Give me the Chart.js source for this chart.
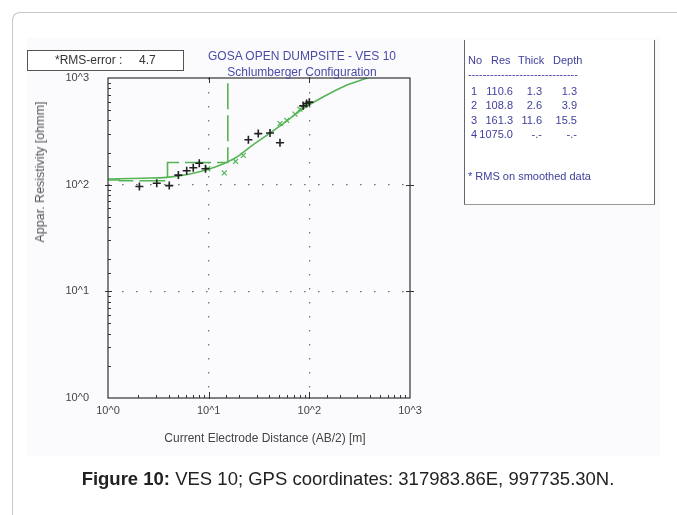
<!DOCTYPE html>
<html>
<head>
<meta charset="utf-8">
<script src="https://cdn.jsdelivr.net/npm/chart.js@4.4.1/dist/chart.umd.min.js"></script>
<style>
  html,body{margin:0;padding:0;background:#fff;}
  body{width:677px;height:515px;position:relative;overflow:hidden;font-family:"Liberation Sans",Arial,sans-serif;}
  #frame{position:absolute;left:12px;top:12px;width:720px;height:560px;border-top:1px solid #c6c6c6;border-left:1px solid #c6c6c6;border-top-left-radius:8px;}
  #tint{position:absolute;left:27px;top:38px;width:633px;height:418px;background:#fbfbfd;}
  #wrap{position:absolute;left:0;top:0;width:677px;height:515px;}
  .abs{position:absolute;white-space:nowrap;}
  #rms{left:27px;top:50px;width:155px;height:19px;border:1px solid #555;background:#fff;font-size:12px;color:#333;line-height:19px;}
  .ttl{color:#4b4ba6;font-size:12px;text-align:center;width:260px;left:172px;}
  #table{left:464px;top:40px;width:189px;height:164px;border-left:1px solid #666;border-right:1px solid #666;border-bottom:1px solid #999;color:#40409c;font-size:11px;background:#fff;}
  .cell{position:absolute;white-space:nowrap;line-height:13px;}
  .r{text-align:right;}
  #ytitle{left:40px;top:172px;transform:translate(-50%,-50%) rotate(-90deg);font-size:12.5px;color:#555;}
  #xtitle{left:265px;top:438px;transform:translate(-50%,-50%);font-size:12px;color:#444;}
  #caption{left:48px;width:600px;top:468px;text-align:center;font-size:18.5px;color:#222;line-height:22px;}
</style>
</head>
<body>
<div id="frame"></div>
<div id="tint"></div>
<div id="wrap"><canvas id="c" width="677" height="515"></canvas></div>
<div id="rms" class="abs"><span class="abs" style="left:27px;top:0">*RMS-error :</span><span class="abs" style="left:111px;top:0">4.7</span></div>
<div class="abs ttl" style="top:49px;">GOSA OPEN DUMPSITE - VES 10</div>
<div class="abs ttl" style="top:65px;">Schlumberger Configuration</div>
<div id="table" class="abs"></div>
<div id="ytitle" class="abs">Appar. Resistivity [ohmm]</div>
<div id="xtitle" class="abs">Current Electrode Distance (AB/2) [m]</div>
<div id="caption" class="abs"><b>Figure 10:</b> VES 10; GPS coordinates: 317983.86E, 997735.30N.</div>
<script>
// ---- data ----
const measX = [2.05, 3.05, 4.06, 5.0, 6.05, 7.03, 8.07, 9.3, 24.8, 31.1, 40.7, 51.1, 87, 94, 100];
const measY = [96, 103, 98, 123, 135, 144, 159, 141, 264, 301, 305, 247, 548, 577, 594];
const smoothX = [9.8, 14.3, 18.5, 22.1, 51.2, 59.6, 72, 80.7, 90.6];
const smoothY = [141, 129, 165, 188, 374, 401, 458, 510, 569];
const curveX = [1, 2.24, 3.83, 6.53, 10.3, 14.0, 19.0, 25.7, 37.7, 55.1, 87.1, 138, 217, 344, 420];
const curveY = [113, 115, 117, 126, 141, 157, 181, 225, 290, 374, 518, 667, 829, 972, 1040];
const layerNo = [1, 2, 3, 4];
const layerRes = [110.6, 108.8, 161.3, 1075.0];
const layerThick = [1.3, 2.6, 11.6, null];
const layerDepth = [1.3, 3.9, 15.5, null];
const decadeValues = [1, 10, 100, 1000];
const decadeLabels = ['10^0', '10^1', '10^2', '10^3'];

// ---- table ----
const tbl = document.getElementById('table');
function cell(txt, left, top, right) {
  const d = document.createElement('div');
  d.className = 'cell' + (right ? ' r' : '');
  d.textContent = txt;
  d.style.top = top + 'px';
  if (right) { d.style.left = (left - 60) + 'px'; d.style.width = '60px'; }
  else d.style.left = left + 'px';
  tbl.appendChild(d);
}
const ox = 464, oy = 40;
cell('No', 467 - ox, 54 - oy);
cell('Res', 490 - ox, 54 - oy);
cell('Thick', 517 - ox, 54 - oy);
cell('Depth', 552 - ox, 54 - oy);
cell('------------------------------', 467 - ox, 68 - oy);
const fmt = v => v == null ? '-.-' : v.toFixed(1);
layerNo.forEach((n, i) => {
  const top = 85 + i * 14.3 - oy;
  cell(String(n), 470 - ox, top);
  cell(fmt(layerRes[i]), 512 - ox, top, true);
  cell(fmt(layerThick[i]), 541 - ox, top, true);
  cell(fmt(layerDepth[i]), 576 - ox, top, true);
});
cell('* RMS on smoothed data', 467 - ox, 170 - oy);

// ---- step model from layers ----
const stepPts = [{x: 1, y: layerRes[0]}];
layerDepth.forEach((d, i) => { if (d != null) stepPts.push({x: d, y: layerRes[i + 1]}); });
stepPts.push({x: 1000, y: layerRes[layerRes.length - 1]});

const zip = (xs, ys) => xs.map((x, i) => ({x, y: ys[i]}));
const labelFor = v => { const i = decadeValues.findIndex(d => Math.abs(d - v) < 1e-9); return i >= 0 ? decadeLabels[i] : ''; };
const innerMajor = v => Math.abs(v - 10) < 1e-9 || Math.abs(v - 100) < 1e-9;

const frameTicks = {
  id: 'frameTicks',
  afterDatasetsDraw(chart) {
    const {ctx, chartArea: a, scales: {x, y}} = chart;
    ctx.save();
    ctx.strokeStyle = '#333';
    ctx.lineWidth = 1.2;
    ctx.strokeRect(a.left, a.top, a.right - a.left, a.bottom - a.top);
    ctx.lineWidth = 1;
    const seg = (x1, y1, x2, y2) => { ctx.beginPath(); ctx.moveTo(x1, y1); ctx.lineTo(x2, y2); ctx.stroke(); };
    x.ticks.forEach(t => {
      const px = Math.round(x.getPixelForValue(t.value)) + 0.5;
      if (px < a.left + 1 || px > a.right - 1) return;
      if (innerMajor(t.value)) { seg(px, a.bottom + 1, px, a.bottom - 6); seg(px, a.top - 1, px, a.top + 5); }
      else seg(px, a.bottom, px, a.bottom - 3);
    });
    y.ticks.forEach(t => {
      const py = Math.round(y.getPixelForValue(t.value)) + 0.5;
      if (py < a.top + 1 || py > a.bottom - 1) return;
      if (innerMajor(t.value)) { seg(a.left - 3, py, a.left + 4, py); seg(a.right - 4, py, a.right + 4, py); }
      else seg(a.left, py, a.left + 3, py);
    });
    ctx.restore();
  }
};

const tickFont = {family: "'Liberation Sans', Arial, sans-serif", size: 11};
new Chart(document.getElementById('c'), {
  type: 'scatter',
  data: {
    datasets: [
      {label: 'model', data: zip(curveX, curveY), showLine: true, borderColor: '#55b455', borderWidth: 1.6, pointRadius: 0, cubicInterpolationMode: 'monotone', order: 3},
      {label: 'layers', data: stepPts, showLine: true, stepped: 'before', borderColor: '#55b455', borderWidth: 1.6, borderDash: [26, 6], pointRadius: 0, order: 4},
      {label: 'smoothed', data: zip(smoothX, smoothY), pointStyle: 'crossRot', pointRadius: 3.5, borderColor: '#55b455', borderWidth: 1.2, backgroundColor: '#55b455', order: 2},
      {label: 'measured', data: zip(measX, measY), pointStyle: 'cross', pointRadius: 4, borderColor: '#222', borderWidth: 1.6, backgroundColor: '#222', order: 1}
    ]
  },
  options: {
    responsive: false,
    animation: false,
    events: [],
    layout: {padding: {left: 0, top: 78, right: 267, bottom: 0}},
    plugins: {legend: {display: false}, tooltip: {enabled: false}},
    scales: {
      x: {
        type: 'logarithmic', min: 1, max: 1000,
        afterFit: s => { s.height = 117; },
        border: {display: false, dash: [1.6, 12.4]},
        grid: {drawTicks: false, lineWidth: 1.3, color: c => innerMajor(c.tick.value) ? '#777' : 'rgba(0,0,0,0)'},
        ticks: {autoSkip: false, maxRotation: 0, padding: 6, color: '#444', font: tickFont, callback: v => labelFor(v)}
      },
      y: {
        type: 'logarithmic', min: 1, max: 1000,
        afterFit: s => { s.width = 108; },
        border: {display: false, dash: [1.6, 12.4]},
        grid: {drawTicks: false, lineWidth: 1.3, color: c => innerMajor(c.tick.value) ? '#777' : 'rgba(0,0,0,0)'},
        ticks: {autoSkip: false, padding: 19, color: '#444', font: tickFont, callback: v => labelFor(v)}
      }
    }
  },
  plugins: [frameTicks]
});
</script>
</body>
</html>
